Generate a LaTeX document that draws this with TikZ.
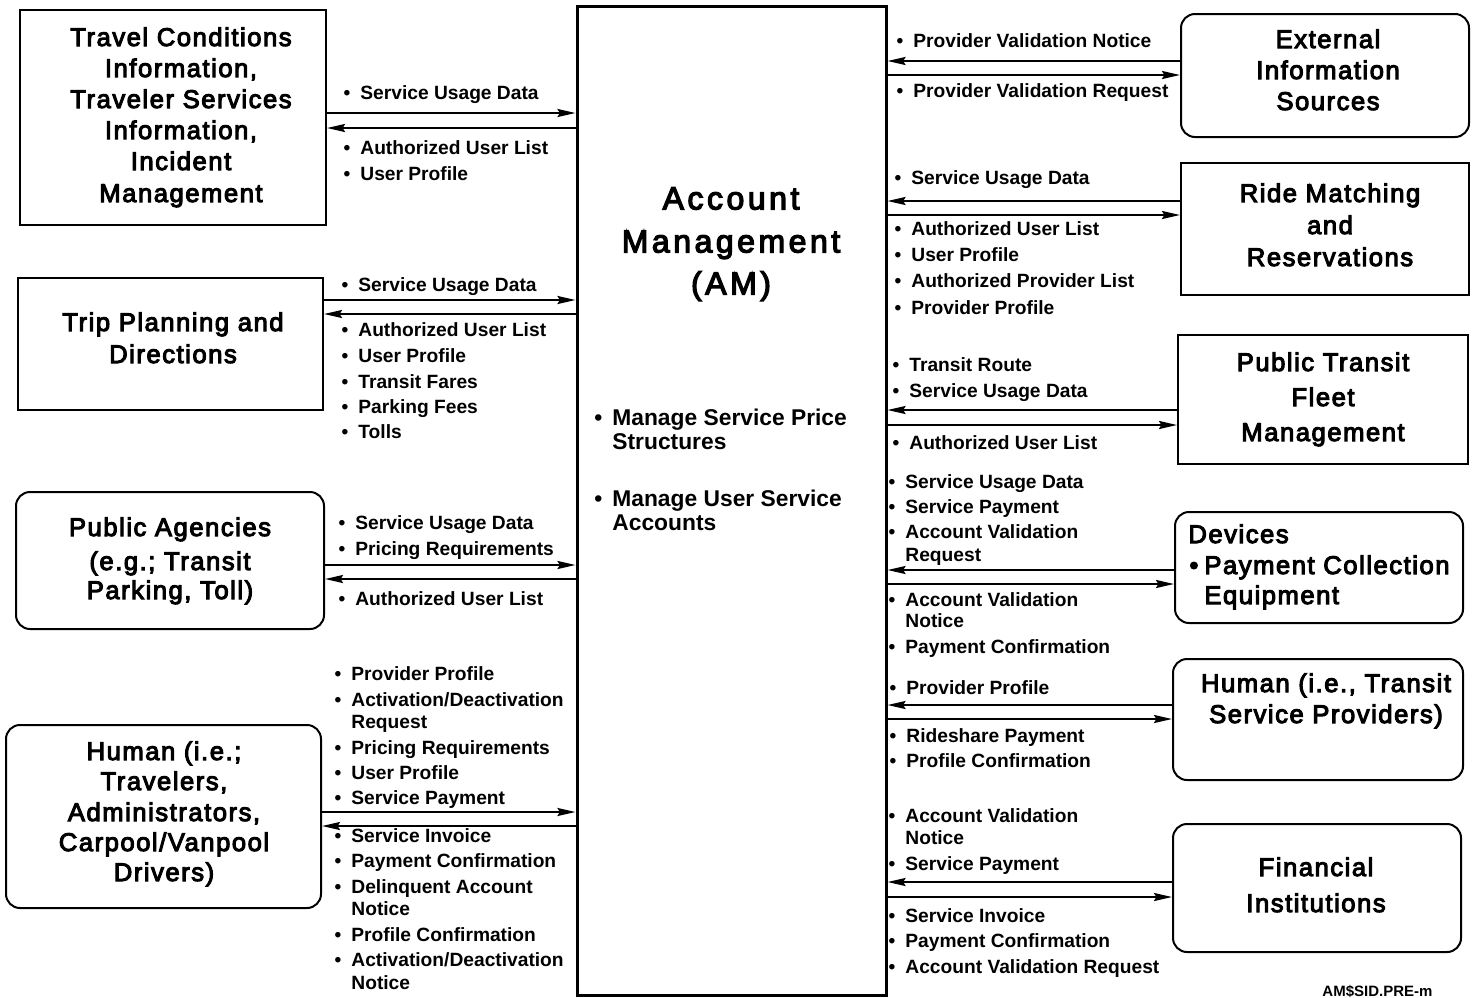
\documentclass[tikz,border=0pt]{standalone}
\usepackage{fontspec}
\setmainfont{Liberation Sans}
\newfontfamily\boxfont[LetterSpace=6,FakeBold=4]{Liberation Sans}
\newfontfamily\titlefont[LetterSpace=11,FakeBold=4]{Liberation Sans}
\newfontfamily\lblfont{Liberation Sans}
\usetikzlibrary{fit,arrows.meta}
\newcommand{\bul}{\llap{\textbullet\hspace{5pt}}}
\tikzset{
  box/.style={draw, line width=1pt, inner sep=0pt},
  rbox/.style={box, rounded corners=7pt},
  arr/.style={line width=1.1pt, -{Stealth[length=9pt,width=4pt,inset=1.2pt]}},
  btxt/.style={anchor=base, inner sep=0pt, yshift=-4.5pt, font=\boxfont\fontsize{12.8}{15}\selectfont},
  btxtl/.style={anchor=base west, inner sep=0pt, yshift=-4.5pt, font=\boxfont\fontsize{12.8}{15}\selectfont},
  lbl/.style={anchor=base west, inner sep=0pt, yshift=-3.4pt, font=\lblfont\bfseries\fontsize{9.6}{11}\selectfont},
  cbl/.style={anchor=base west, inner sep=0pt, yshift=-4pt, font=\lblfont\bfseries\fontsize{11.4}{13}\selectfont},
  ttl/.style={anchor=base, inner sep=0pt, yshift=-5.7pt, font=\titlefont\fontsize{16}{20}\selectfont},
  foot/.style={anchor=base west, inner sep=0pt, yshift=-2.7pt, font=\lblfont\bfseries\fontsize{7.5}{9}\selectfont},
}
\begin{document}
\begin{tikzpicture}[x=0.5pt,y=-0.5pt]
\useasboundingbox (0,0) rectangle (1475,997);

% central box
\node[box, line width=1.5pt, fit={(577,6) (886,995)}] (am) {};
\foreach \y/\t [count=\i] in {198/Account, 241/Management, 283/(AM)}
  \node[ttl] (am-t\i) at (731,\y) {\t};
\foreach \y/\t [count=\i] in {417/{\bul Manage Service Price}, 441/Structures, 498/{\bul Manage User Service}, 522/Accounts}
  \node[cbl] (am-b\i) at (612,\y) {\t};

% left boxes
\node[box, fit={(20,10) (326,225)}] (tc) {};
\foreach \y/\t [count=\i] in {37/Travel Conditions, 68/{Information,}, 99/Traveler Services, 130/{Information,}, 161/Incident, 193/Management}
  \node[btxt] (tc-t\i) at (181,\y) {\t};
\node[box, fit={(18,278) (323,410)}] (tp) {};
\foreach \y/\t [count=\i] in {322/Trip Planning and, 354/Directions}
  \node[btxt] (tp-t\i) at (173,\y) {\t};
\node[rbox, fit={(16,492) (324,629)}] (pa) {};
\foreach \y/\t [count=\i] in {527/Public Agencies, 561/{(e.g.; Transit}, 590/{Parking, Toll)}}
  \node[btxt] (pa-t\i) at (170,\y) {\t};
\node[rbox, fit={(6,725) (321,908)}] (ht) {};
\foreach \y/\t [count=\i] in {751/{Human (i.e.;}, 781/{Travelers,}, 812/{Administrators,}, 842/{Carpool/Vanpool}, 872/{Drivers)}}
  \node[btxt] (ht-t\i) at (164,\y) {\t};

% right boxes
\node[rbox, fit={(1181,14) (1469,137)}] (ext) {};
\foreach \y/\t [count=\i] in {39/External, 70/Information, 101/Sources}
  \node[btxt] (ext-t\i) at (1328,\y) {\t};
\node[box, fit={(1181,163) (1469,295)}] (ride) {};
\foreach \y/\t [count=\i] in {193/Ride Matching, 225/and, 257/Reservations}
  \node[btxt] (ride-t\i) at (1330,\y) {\t};
\node[box, fit={(1178,335) (1468,464)}] (ptf) {};
\foreach \y/\t [count=\i] in {362/Public Transit, 397/Fleet, 432/Management}
  \node[btxt] (ptf-t\i) at (1323,\y) {\t};
\node[rbox, fit={(1175,512) (1463,623)}] (dev) {};
\node[btxtl] (dev-t1) at (1188,534) {Devices};
\node[btxtl] (dev-t2) at (1204,565) {\llap{\textbullet\hspace{3pt}}Payment Collection};
\node[btxtl] (dev-t3) at (1204,595) {Equipment};
\node[rbox, fit={(1173,659) (1463,780)}] (hsp) {};
\foreach \y/\t [count=\i] in {683/{Human (i.e., Transit}, 714/{Service Providers)}}
  \node[btxt] (hsp-t\i) at (1326,\y) {\t};
\node[rbox, fit={(1173,824) (1461,952)}] (fin) {};
\foreach \y/\t [count=\i] in {867/Financial, 903/Institutions}
  \node[btxt] (fin-t\i) at (1316,\y) {\t};

% left connectors
\draw[arr] (tc.east |- 0,113) -- (am.west |- 0,113);
\draw[arr] (am.west |- 0,128) -- (tc.east |- 0,128);
\draw[arr] (tp.east |- 0,300) -- (am.west |- 0,300);
\draw[arr] (am.west |- 0,314) -- (tp.east |- 0,314);
\draw[arr] (pa.east |- 0,565) -- (am.west |- 0,565);
\draw[arr] (am.west |- 0,579) -- (pa.east |- 0,579);
\draw[arr] (ht.east |- 0,812) -- (am.west |- 0,812);
\draw[arr] (am.west |- 0,826) -- (ht.east |- 0,826);

% right connectors
\draw[arr] (ext.west |- 0,61) -- (am.east |- 0,61);
\draw[arr] (am.east |- 0,75) -- (ext.west |- 0,75);
\draw[arr] (ride.west |- 0,201) -- (am.east |- 0,201);
\draw[arr] (am.east |- 0,215) -- (ride.west |- 0,215);
\draw[arr] (ptf.west |- 0,410) -- (am.east |- 0,410);
\draw[arr] (am.east |- 0,425) -- (ptf.west |- 0,425);
\draw[arr] (dev.west |- 0,570) -- (am.east |- 0,570);
\draw[arr] (am.east |- 0,584) -- (dev.west |- 0,584);
\draw[arr] (hsp.west |- 0,705) -- (am.east |- 0,705);
\draw[arr] (am.east |- 0,719) -- (hsp.west |- 0,719);
\draw[arr] (fin.west |- 0,882) -- (am.east |- 0,882);
\draw[arr] (am.east |- 0,897) -- (fin.west |- 0,897);

% left labels
\foreach \y/\t [count=\i] in {93/{\bul Service Usage Data}, 148/{\bul Authorized User List}, 174/{\bul User Profile}}
  \node[lbl] (l1-\i) at (360,\y) {\t};
\foreach \y/\t [count=\i] in {285/{\bul Service Usage Data}, 330/{\bul Authorized User List}, 356/{\bul User Profile}, 382/{\bul Transit Fares}, 407/{\bul Parking Fees}, 432/{\bul Tolls}}
  \node[lbl] (l2-\i) at (358,\y) {\t};
\foreach \y/\t [count=\i] in {523/{\bul Service Usage Data}, 549/{\bul Pricing Requirements}, 599/{\bul Authorized User List}}
  \node[lbl] (l3-\i) at (355,\y) {\t};
\foreach \y/\t [count=\i] in {674/{\bul Provider Profile}, 700/{\bul Activation/Deactivation}, 722/{Request}, 748/{\bul Pricing Requirements}, 773/{\bul User Profile}, 798/{\bul Service Payment}, 836/{\bul Service Invoice}, 861/{\bul Payment Confirmation}, 887/{\bul Delinquent Account}, 909/{Notice}, 935/{\bul Profile Confirmation}, 960/{\bul Activation/Deactivation}, 983/{Notice}}
  \node[lbl] (l4-\i) at (351,\y) {\t};

% right labels
\foreach \y/\t [count=\i] in {41/{\bul Provider Validation Notice}, 91/{\bul Provider Validation Request}}
  \node[lbl] (r1-\i) at (913,\y) {\t};
\foreach \y/\t [count=\i] in {178/{\bul Service Usage Data}, 229/{\bul Authorized User List}, 255/{\bul User Profile}, 281/{\bul Authorized Provider List}, 308/{\bul Provider Profile}}
  \node[lbl] (r2-\i) at (911,\y) {\t};
\foreach \y/\t [count=\i] in {365/{\bul Transit Route}, 391/{\bul Service Usage Data}, 443/{\bul Authorized User List}}
  \node[lbl] (r3-\i) at (909,\y) {\t};
\foreach \y/\t [count=\i] in {482/{\bul Service Usage Data}, 507/{\bul Service Payment}, 532/{\bul Account Validation}, 555/{Request}, 600/{\bul Account Validation}, 621/{Notice}, 647/{\bul Payment Confirmation}}
  \node[lbl] (r4-\i) at (905,\y) {\t};
\foreach \y/\t [count=\i] in {688/{\bul Provider Profile}, 736/{\bul Rideshare Payment}, 761/{\bul Profile Confirmation}}
  \node[lbl] (r5-\i) at (906,\y) {\t};
\foreach \y/\t [count=\i] in {816/{\bul Account Validation}, 838/{Notice}, 864/{\bul Service Payment}, 916/{\bul Service Invoice}, 941/{\bul Payment Confirmation}, 967/{\bul Account Validation Request}}
  \node[lbl] (r6-\i) at (905,\y) {\t};

\node[foot] (ft) at (1322,991) {AM\$SID.PRE-m};
\end{tikzpicture}
\end{document}
